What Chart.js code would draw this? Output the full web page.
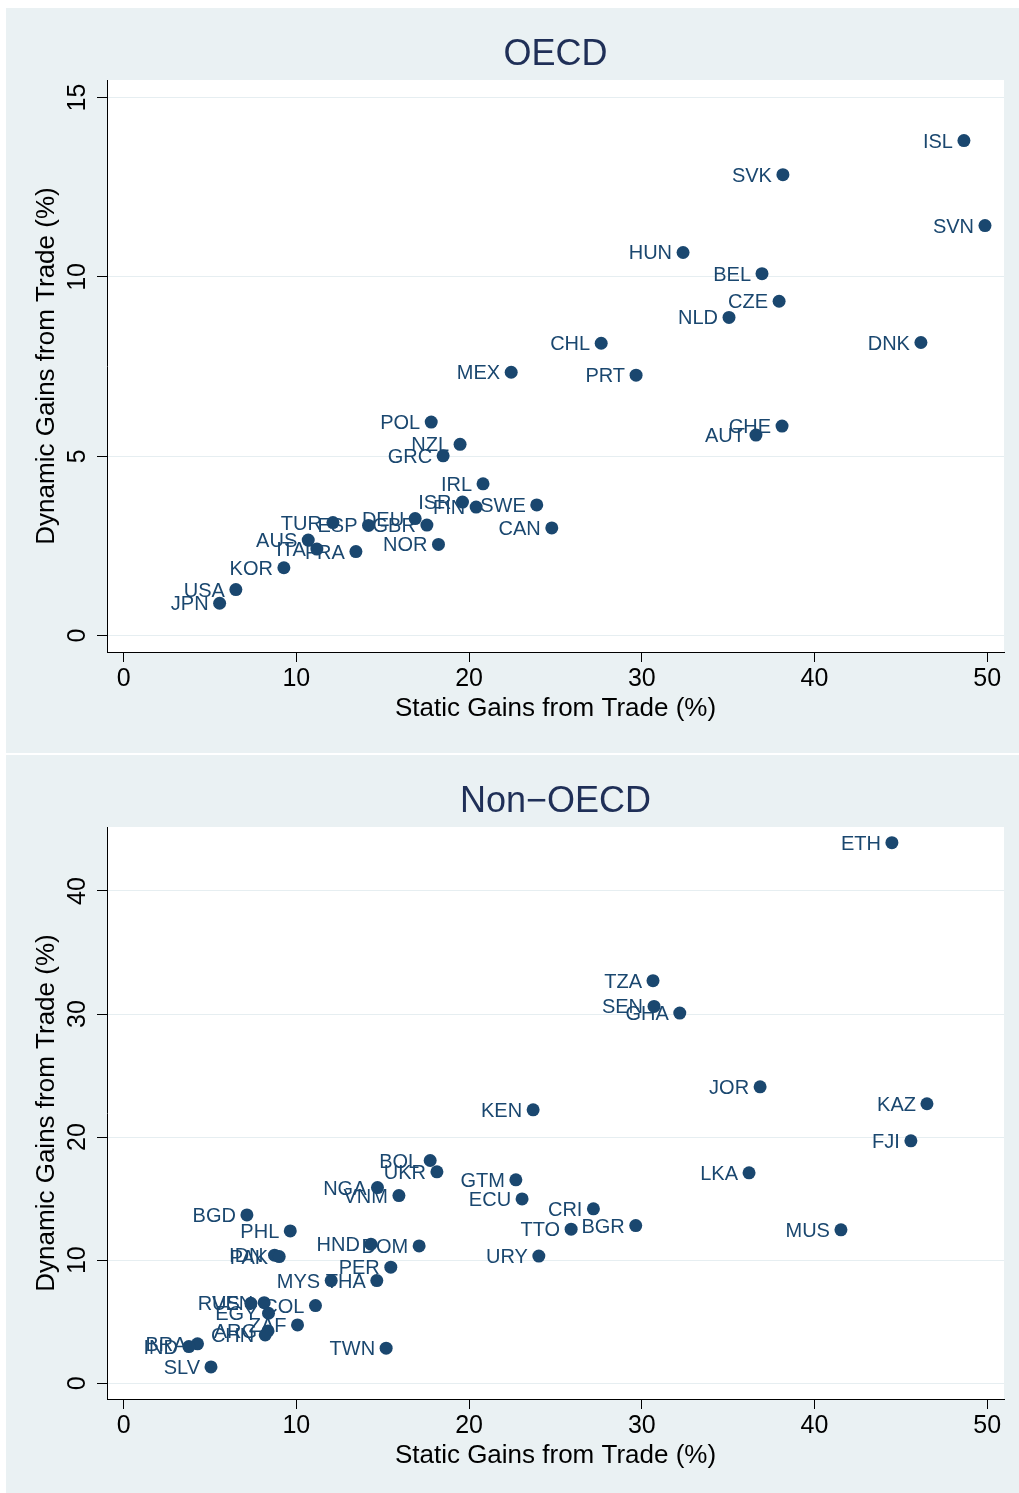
<!DOCTYPE html>
<html>
<head>
<meta charset="utf-8">
<script src="https://cdn.jsdelivr.net/npm/chart.js@4.4.1/dist/chart.umd.min.js"></script>
<style>
  html, body { margin: 0; padding: 0; background: #ffffff; overflow: hidden; }
  .panel { position: absolute; left: 6px; width: 1013px; background: #eaf1f3; overflow: hidden; }
  #p1 { top: 8px; height: 745px; }
  #p2 { top: 755px; height: 738px; }
  canvas { display: block; }
</style>
</head>
<body>
<div class="panel" id="p1"><canvas id="c1" width="1013" height="745"></canvas></div>
<div class="panel" id="p2"><canvas id="c2" width="1013" height="745"></canvas></div>
<script>
// ---- data ----
const oecdCodes = ['ISL','SVK','SVN','HUN','BEL','CZE','NLD','CHL','DNK','MEX','PRT','POL','NZL','GRC','CHE','AUT',
  'IRL','ISR','FIN','SWE','CAN','TUR','ESP','DEU','GBR','NOR','AUS','ITA','FRA','KOR','USA','JPN'];
const oecdStatic = [48.65,38.17,49.87,32.39,36.96,37.95,35.05,27.65,46.16,22.44,29.67,17.81,19.48,18.50,38.12,36.61,
  20.81,19.62,20.41,23.92,24.79,12.12,14.18,16.88,17.56,18.23,10.69,11.19,13.45,9.28,6.50,5.56];
const oecdDynamic = [13.80,12.85,11.43,10.68,10.09,9.32,8.87,8.15,8.17,7.34,7.26,5.95,5.33,5.01,5.84,5.59,
  4.23,3.72,3.58,3.64,3.00,3.15,3.07,3.26,3.08,2.54,2.66,2.41,2.34,1.89,1.28,0.90];

const nonCodes = ['ETH','TZA','SEN','GHA','JOR','KAZ','FJI','KEN','LKA','MUS','BOL','UKR','GTM','ECU','CRI','TTO',
  'BGR','URY','NGA','VNM','HND','DOM','PER','THA','MYS','BGD','PHL','IDN','PAK','RUS','VEN','COL','EGY','ZAF',
  'ARG','CHN','BRA','IND','SLV','TWN'];
const nonStatic = [44.48,30.65,30.71,32.20,36.85,46.51,45.58,23.71,36.21,41.53,17.75,18.14,22.71,23.07,27.20,25.91,
  29.65,24.04,14.70,15.94,14.32,17.11,15.47,14.66,12.02,7.14,9.65,8.74,9.01,7.37,8.14,11.11,8.39,10.07,
  8.36,8.20,4.28,3.78,5.06,15.20];
const nonDynamic = [43.93,32.71,30.62,30.08,24.09,22.71,19.70,22.22,17.10,12.47,18.10,17.18,16.53,14.98,14.17,12.52,
  12.81,10.33,15.90,15.25,11.30,11.16,9.43,8.34,8.34,13.68,12.38,10.41,10.29,6.50,6.55,6.31,5.69,4.74,
  4.25,3.93,3.20,2.98,1.33,2.85];

const staticTicks = [0, 10, 20, 30, 40, 50];
const oecdDynTicks = [0, 5, 10, 15];
const nonDynTicks = [0, 10, 20, 30, 40];

// ---- styling ----
const FAMILY = '"Liberation Sans", Arial, Helvetica, sans-serif';
const NAVY = '#1a476f';
const TITLE_COLOR = '#1f2f57';
const GRID = '#e6eef1';

const plotBackground = {
  id: 'plotBackground',
  beforeDraw(chart) {
    const { ctx, chartArea: a } = chart;
    ctx.save();
    ctx.fillStyle = '#ffffff';
    ctx.fillRect(a.left, a.top, a.right - a.left, a.bottom - a.top);
    ctx.restore();
  }
};

// country codes to the left of each marker, drawn underneath the markers
const pointLabels = {
  id: 'pointLabels',
  beforeDatasetsDraw(chart) {
    const { ctx } = chart;
    const codes = chart.options.plugins.pointLabels.codes;
    const meta = chart.getDatasetMeta(0);
    ctx.save();
    ctx.font = '20px ' + FAMILY;
    ctx.fillStyle = NAVY;
    ctx.textAlign = 'right';
    ctx.textBaseline = 'alphabetic';
    meta.data.forEach((el, i) => {
      ctx.fillText(codes[i], el.x - 11, el.y + 7);
    });
    ctx.restore();
  }
};

// panel heading and vertical y tick labels
const panelText = {
  id: 'panelText',
  afterDraw(chart) {
    const { ctx, chartArea: a, scales } = chart;
    const opts = chart.options.plugins.panelText;
    ctx.save();
    ctx.font = '36px ' + FAMILY;
    ctx.fillStyle = TITLE_COLOR;
    ctx.textAlign = 'center';
    ctx.textBaseline = 'alphabetic';
    ctx.fillText(opts.heading, (a.left + a.right) / 2, 57);

    const y = scales.y;
    ctx.font = '25px ' + FAMILY;
    ctx.fillStyle = '#000000';
    y.ticks.forEach(t => {
      const py = y.getPixelForValue(t.value);
      ctx.save();
      ctx.translate(79, py);
      ctx.rotate(-Math.PI / 2);
      ctx.textAlign = 'center';
      ctx.textBaseline = 'alphabetic';
      ctx.fillText(String(t.value), 0, 0);
      ctx.restore();
    });
    ctx.restore();
  }
};

function makePanel(canvasId, heading, codes, xs, ys, yTicks, yMin, yMax) {
  const points = xs.map((x, i) => ({ x: x, y: ys[i] }));
  return new Chart(document.getElementById(canvasId), {
    type: 'scatter',
    data: {
      datasets: [{
        data: points,
        backgroundColor: NAVY,
        borderColor: NAVY,
        borderWidth: 0,
        pointRadius: 6.5,
        pointHoverRadius: 6.5
      }]
    },
    options: {
      responsive: false,
      animation: false,
      devicePixelRatio: 1,
      events: [],
      layout: { padding: { left: 0, top: 72, right: 15, bottom: 0 } },
      plugins: {
        legend: { display: false },
        tooltip: { enabled: false },
        title: { display: false },
        pointLabels: { codes: codes },
        panelText: { heading: heading }
      },
      scales: {
        x: {
          type: 'linear',
          position: 'bottom',
          min: -0.96,
          max: 50.97,
          afterBuildTicks: s => { s.ticks = staticTicks.map(v => ({ value: v })); },
          afterFit: s => { s.height = 101; },
          grid: { drawOnChartArea: false, drawTicks: true, tickLength: 10, tickColor: '#000000', tickWidth: 1 },
          border: { display: true, color: '#000000', width: 1 },
          ticks: { color: '#000000', font: { family: FAMILY, size: 25 }, padding: 2, maxRotation: 0, autoSkip: false },
          title: {
            display: true,
            text: 'Static Gains from Trade (%)',
            color: '#000000',
            font: { family: FAMILY, size: 26, lineHeight: 1.2 },
            padding: { top: 0, bottom: 29 }
          }
        },
        y: {
          type: 'linear',
          position: 'left',
          min: yMin,
          max: yMax,
          afterBuildTicks: s => { s.ticks = yTicks.map(v => ({ value: v })); },
          afterFit: s => { s.width = 101; },
          grid: { color: GRID, lineWidth: 1, drawTicks: true, tickLength: 10, tickColor: '#000000', tickWidth: 1 },
          border: { display: true, color: '#000000', width: 1 },
          ticks: { display: false },
          title: {
            display: true,
            text: 'Dynamic Gains from Trade (%)',
            color: '#000000',
            font: { family: FAMILY, size: 26, lineHeight: 1.2 },
            padding: { top: 25, bottom: 0 }
          }
        }
      }
    },
    plugins: [plotBackground, pointLabels, panelText]
  });
}

makePanel('c1', 'OECD', oecdCodes, oecdStatic, oecdDynamic, oecdDynTicks, -0.46, 15.49);
makePanel('c2', 'Non\u2212OECD', nonCodes, nonStatic, nonDynamic, nonDynTicks, -1.28, 45.2);
</script>
</body>
</html>
